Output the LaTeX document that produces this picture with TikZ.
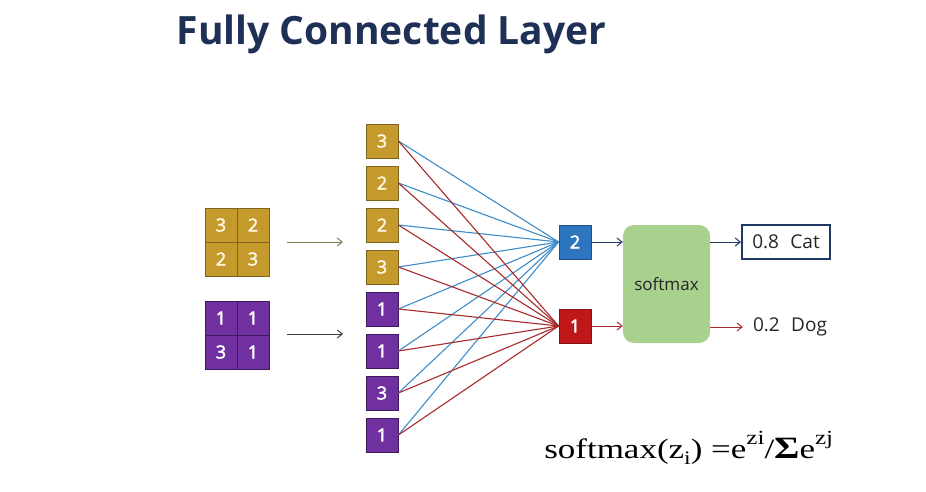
\documentclass[tikz,border=0pt]{standalone}
\usepackage{fontspec}
\setmainfont{Liberation Serif}
\newfontfamily\uifont{Open Sans}
\newfontfamily\digitfont[FakeBold=2.5]{Open Sans}
\usetikzlibrary{arrows.meta}
\definecolor{gold}{HTML}{C49A2C}
\definecolor{goldline}{HTML}{7F6420}
\definecolor{purp}{HTML}{7030A0}
\definecolor{purpline}{HTML}{3E1A5C}
\definecolor{bluebox}{HTML}{2E75C0}
\definecolor{redbox}{HTML}{C01818}
\definecolor{blueln}{HTML}{3E8CC8}
\definecolor{redln}{HTML}{A82A2A}
\definecolor{navy}{HTML}{203864}
\definecolor{titlec}{HTML}{1F3056}
\definecolor{greenbox}{HTML}{A9D18E}
\definecolor{oliveln}{HTML}{857A55}
\definecolor{cream}{HTML}{FFF6DC}
\begin{document}
\begin{tikzpicture}[x=1pt,y=-1pt,
  cell/.style={draw, line width=0.8pt, minimum width=32pt, minimum height=34pt, inner sep=0pt,
    text=white, font=\digitfont\fontsize{18}{18}\selectfont},
  gcell/.style={cell, fill=gold, draw=goldline, text=cream},
  pcell/.style={cell, fill=purp, draw=purpline},
  conn/.style={line width=1.1pt},
  arr/.style={line width=1pt, -{Straight Barb[length=5pt,width=8pt]}},
  lbl/.style={font=\uifont\fontsize{19}{19}\selectfont, text=black!85}
]
\useasboundingbox[fill=white] (0,0) rectangle (926,492);
% title
\node[anchor=base, font=\uifont\bfseries\fontsize{39}{39}\selectfont, text=titlec, inner sep=0pt] (title) at (391.5,45) {Fully Connected Layer};
% yellow grid
\node[gcell] (y11) at (221,225) {3};
\node[gcell] (y12) at (253,225) {2};
\node[gcell] (y21) at (221,259) {2};
\node[gcell] (y22) at (253,259) {3};
% purple grid
\node[pcell] (p11) at (221,318) {1};
\node[pcell] (p12) at (253,318) {1};
\node[pcell] (p21) at (221,352) {3};
\node[pcell] (p22) at (253,352) {1};
% grid arrows
\coordinate (a1s) at (287,242);
\coordinate (a1e) at (343,242);
\coordinate (a2s) at (287,334);
\coordinate (a2e) at (343,334);
\draw[arr, oliveln] (a1s) -- (a1e);
\draw[arr, black!75] (a2s) -- (a2e);
% column
\node[gcell] (c1) at (382,141) {3};
\node[gcell] (c2) at (382,183) {2};
\node[gcell] (c3) at (382,225) {2};
\node[gcell] (c4) at (382,267) {3};
\node[pcell] (c5) at (382,309) {1};
\node[pcell] (c6) at (382,351) {1};
\node[pcell] (c7) at (382,393) {3};
\node[pcell] (c8) at (382,435) {1};
% output nodes
\node[cell, fill=bluebox, draw=bluebox!70!black] (b) at (575,242) {2};
\node[cell, fill=redbox, draw=redbox!70!black] (r) at (575,326) {1};
% connections
\foreach \i in {1,...,8} {
  \draw[conn, blueln] (c\i.east) -- (b.west);
}
\foreach \i in {1,...,8} {
  \draw[conn, redln] (c\i.east) -- (r.west);
}
% softmax
\node[fill=greenbox, rounded corners=11pt, minimum width=87pt, minimum height=118pt, inner sep=0pt,
  font=\uifont\fontsize{17}{17}\selectfont, text=black!85] (sm) at (666.5,284) {softmax};
\draw[arr, navy] (b.east) -- (b.east -| sm.west);
\draw[arr, redln] (r.east) -- (r.east -| sm.west);
% outputs
\node[draw=navy, line width=2pt, minimum width=88pt, minimum height=34pt, inner sep=0pt, lbl] (cat) at (786,242) {0.8\hspace{0.6em}Cat};
\node[lbl, inner xsep=10pt, inner ysep=0pt] (dog) at (790,327) {0.2\hspace{0.6em}Dog};
\draw[arr, navy] (sm.east |- cat.west) -- (cat.west);
\draw[arr, redln] (sm.east |- dog.west) -- (dog.west);
% formula
\node[anchor=base west, inner sep=0pt, xscale=1.25, transform shape, font=\fontsize{28}{28}\selectfont] (formula) at (544,458)
  {softmax(z\raisebox{-0.22em}{\fontsize{19}{19}\selectfont i}) =e\raisebox{0.5em}{\fontsize{20}{20}\selectfont zi}/{\fontsize{31}{31}\selectfont\bfseries Σ}e\raisebox{0.5em}{\fontsize{20}{20}\selectfont zj}};
\end{tikzpicture}
\end{document}
